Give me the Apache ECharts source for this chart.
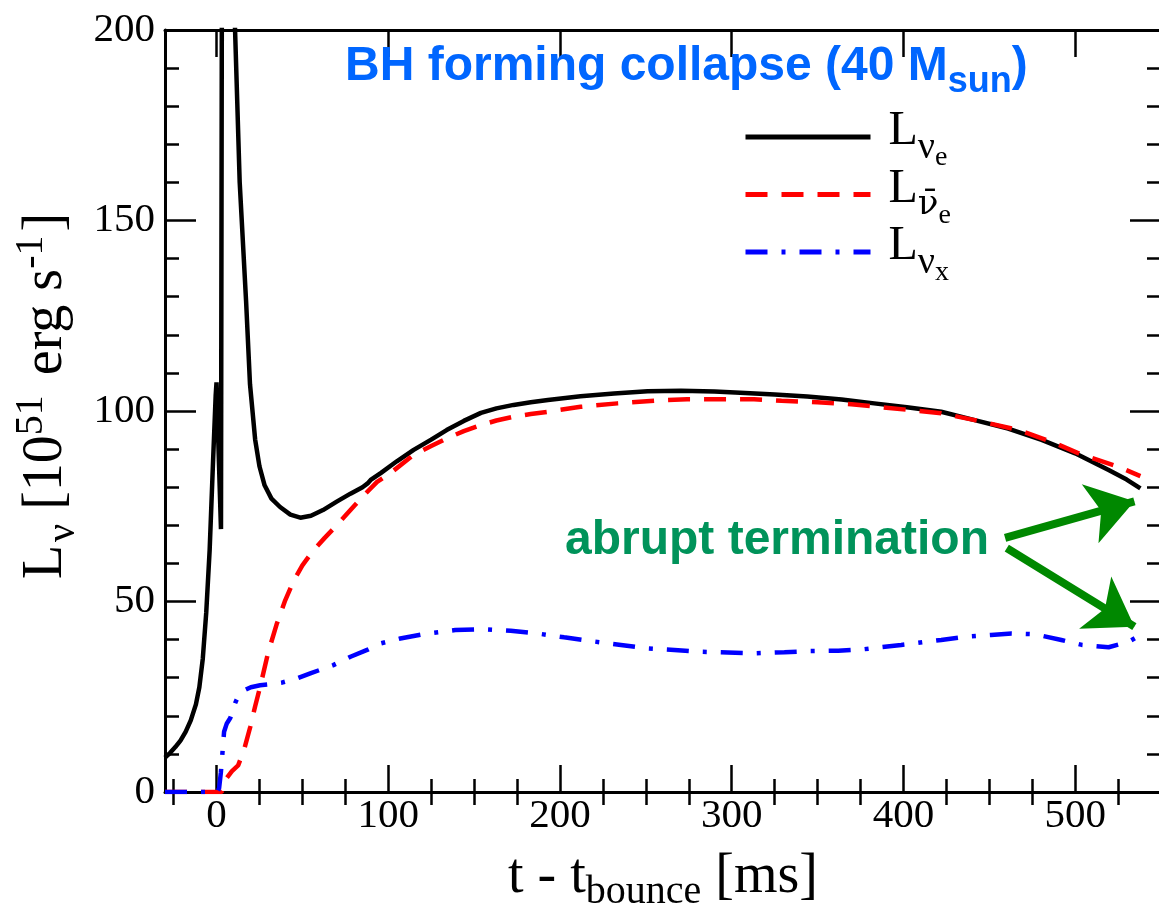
<!DOCTYPE html>
<html><head><meta charset="utf-8">
<script src="https://cdn.jsdelivr.net/npm/echarts@6/dist/echarts.min.js"></script>
<style>html,body{margin:0;padding:0;background:#fff}#c{width:1159px;height:906px}</style>
</head><body><div id="c"></div>
<script>
// ---- data ----
const xMajorTicks = [0, 100, 200, 300, 400, 500];
const xMinorTicks = [-25, 25, 50, 75, 125, 150, 175, 225, 250, 275, 325, 350, 375, 425, 450, 475, 525];

const tNue = [-30,-27,-24,-21,-18,-15,-12,-10,-8,-6,-4,-2,-0.5,0,2.6,3.0,3.3,5,8,10.8,13.5,17.2,19.5,22.5,25,28,32,37,43,48.8,55,62,70,78,85,88,90,95.6,105,114.8,125,134,144,154,163,173,183,193,212,231.5,251,270.5,290,305,325,344,364,383,402,422,441.5,461,480.5,500,519.5,530,538];
const lNue = [9.0,10.3,11.8,13.5,15.8,18.8,23.0,27.5,35,47,63.5,87,104,107.5,69,69,260,300,240,200,160,129,107,92.5,85.5,80.5,77,74.8,72.8,72,72.5,74,76.2,78.3,80,81,82,83.7,86.8,89.8,92.5,95,97.4,99.5,100.7,101.6,102.3,102.9,103.9,104.6,105.2,105.3,105.1,104.8,104.3,103.8,103,102,101,99.8,97.6,95.4,92.4,88.9,84.5,82,79.7];

const tNuebar = [-30,3,4.5,6,9,12.6,16,19.6,22.5,25.4,30,35,40,45,50,56,63,70,78,85,93.5,101,114.8,125,134,144,154,163,173,183,193,212,233.5,255,274,292,313,329,350,369.7,387,402.7,422,441.6,467,486.5,504,525,538];
const lNuebar = [0,0,2,3.7,5.5,7,11,17,22.5,27.6,36.5,44,50.3,55.5,59.5,63.2,66.7,70,74,77.5,81.4,83.6,88.5,90.8,92.8,94.7,96.3,97.5,98.5,99.2,99.8,101.1,102,102.7,103.1,103.1,103.1,102.7,102.3,101.8,101,100.3,99.4,97.6,95,91.9,88.5,85.4,82.9];

const tNux = [-30,0.5,1.5,2.5,3,4.4,6,8,10.9,13,16.7,20,25.4,32,38,46.8,55,68,78,87.7,95.6,107,122.7,139,155.7,171.3,186.9,202.4,220,235.5,251,266.6,282,297.7,314,330.7,346,362,377.4,398.7,422,437.7,451,463,476.5,492,504,519.5,531,538];
const lNux = [0,0,1,5,7.6,15.8,18,19.4,23.4,25.5,26.8,27.5,28,28.3,28.7,29.8,31.2,33.3,35.5,37.3,39,40.3,41.6,42.5,42.7,42.3,41.6,40.6,39.5,38.6,37.7,37.3,36.8,36.6,36.4,36.7,37,37.1,37.5,38.6,39.9,40.8,41.2,41.6,41.4,39.9,38.6,38,39.4,41.2];

// annotation arrows: [start t, start L, tip t, tip L]
const arrowTop = [459.2, 66.7, 534.5, 76.3];
const arrowBottom = [460.2, 64.0, 534.5, 43.4];

const zip = (a, b) => a.map((v, i) => [v, b[i]]);

const SERIF = '"Liberation Serif", "Times New Roman", serif';
const SANS = '"Liberation Sans", Arial, sans-serif';
const tickStyle = { color: '#000', width: 2.5 };
const lineAxis = { show: true, onZero: false, lineStyle: { color: '#000', width: 3 } };

function xAx(pos, ticks, len, withLine, withLabel) {
  const o = {
    type: 'value', min: -30, max: 550, position: pos, gridIndex: 0,
    splitLine: { show: false },
    axisLine: withLine ? lineAxis : { show: false },
    axisTick: { show: true, inside: true, length: len, customValues: ticks, lineStyle: tickStyle },
    axisLabel: { show: false }
  };
  if (withLabel) {
    o.axisLabel = { show: true, customValues: xMajorTicks, fontFamily: SERIF, fontSize: 41, color: '#000', margin: 4 };
    o.name = '{m|t - t}{s|bounce}{m| [ms]}';
    o.nameLocation = 'middle';
    o.nameGap = 57;
    o.nameMoveOverlap = false;
    o.nameTextStyle = {
      lineHeight: 56,
      rich: {
        m: { fontFamily: SERIF, fontSize: 56, color: '#000', lineHeight: 56 },
        s: { fontFamily: SERIF, fontSize: 40, color: '#000', lineHeight: 56, padding: [30, 0, 0, 0] }
      }
    };
  }
  return o;
}

function yAx(pos, withLabel) {
  const o = {
    type: 'value', min: 0, max: 200, interval: 50, position: pos, gridIndex: 0,
    splitLine: { show: false }, minorSplitLine: { show: false },
    axisLine: lineAxis,
    axisTick: { show: true, inside: true, length: 31, lineStyle: tickStyle },
    minorTick: { show: true, splitNumber: 5, length: 14, lineStyle: tickStyle },
    axisLabel: { show: !!withLabel, fontFamily: SERIF, fontSize: 41, color: '#000', margin: 10 }
  };
  if (withLabel) {
    o.name = '{L|L}{n|ν}{m| [10}{p|51}{m| erg s}{q|-1}{m|]}';
    o.nameLocation = 'middle';
    o.nameRotate = 90;
    o.nameGap = 91;
    o.nameMoveOverlap = false;
    o.nameTextStyle = {
      lineHeight: 56,
      padding: [0, 0, 0, 30],
      rich: {
        L: { fontFamily: SERIF, fontSize: 56, color: '#000', lineHeight: 56, padding: [0, 3, 0, 0] },
        m: { fontFamily: SERIF, fontSize: 56, color: '#000', lineHeight: 56 },
        n: { fontFamily: SERIF, fontSize: 40, color: '#000', lineHeight: 56, padding: [34, 0, 0, 0] },
        p: { fontFamily: SERIF, fontSize: 40, color: '#000', lineHeight: 56, padding: [0, 6, 30, 0] },
        q: { fontFamily: SERIF, fontSize: 40, color: '#000', lineHeight: 56, padding: [0, 4, 30, 0] }
      }
    };
  }
  return o;
}

const legendRich = {
  L: { fontFamily: SERIF, fontSize: 48, color: '#000', lineHeight: 40, padding: [0, 0, 11, 0] },
  n: { fontFamily: SERIF, fontSize: 38, color: '#000', lineHeight: 40, padding: [22, 0, 0, 0] },
  b: { fontFamily: '"DejaVu Serif", serif', fontSize: 34, color: '#000', lineHeight: 40, padding: [22, 0, 0, 0] },
  e: { fontFamily: SERIF, fontSize: 28, color: '#000', lineHeight: 40, padding: [42, 0, 0, 0] }
};

const noEmph = { disabled: true };
const chart = echarts.init(document.getElementById('c'), null, { renderer: 'canvas' });
chart.setOption({
  animation: false,
  backgroundColor: '#fff',
  title: {
    text: '{a|BH forming collapse (40 M}{s|sun}{a|)}',
    left: 345, top: 43, padding: 0,
    textStyle: {
      lineHeight: 48,
      rich: {
        a: { fontFamily: SANS, fontWeight: 'bold', fontSize: 48, color: '#0066ff', lineHeight: 48 },
        s: { fontFamily: SANS, fontWeight: 'bold', fontSize: 36, color: '#0066ff', lineHeight: 48, padding: [30, 0, 0, 0] }
      }
    }
  },
  grid: { left: 165, top: 30, width: 996, height: 762, containLabel: false, outerBoundsMode: 'none' },
  legend: {
    orient: 'vertical', left: 743, top: 102, padding: 0,
    itemWidth: 125, itemHeight: 14, itemGap: -12.5,
    selectedMode: false,
    itemStyle: { opacity: 0 },
    lineStyle: { width: 5 },
    textStyle: { lineHeight: 40, padding: [0, 0, 0, 13], rich: legendRich },
    data: ['nue', 'nuebar', 'nux'],
    formatter: function (name) {
      if (name === 'nue') return '{L|L}{n|ν}{e|e}';
      if (name === 'nuebar') return '{L|L}{b|ν̄}{e|e}';
      return '{L|L}{n|ν}{e|x}';
    }
  },
  xAxis: [
    xAx('bottom', xMajorTicks, 27, true, true),
    xAx('bottom', xMinorTicks, 13, false, false),
    xAx('top', xMajorTicks, 27, true, false),
    xAx('top', xMinorTicks, 13, false, false)
  ],
  yAxis: [yAx('left', true), yAx('right', false)],
  graphic: [{
    type: 'text', left: 565, top: 517, silent: true,
    style: { text: 'abrupt termination', font: 'bold 48px ' + SANS, fill: '#00935a' }
  }],
  series: [
    {
      name: 'nue', type: 'line', xAxisIndex: 0, yAxisIndex: 0, data: zip(tNue, lNue),
      showSymbol: false, symbol: 'none', clip: true, emphasis: noEmph,
      lineStyle: { color: '#000', width: 4.5 }, itemStyle: { color: '#000' },
      markLine: {
        silent: true, symbol: ['none', 'arrow'], symbolSize: 46,
        label: { show: false }, emphasis: noEmph,
        lineStyle: { color: '#008800', width: 8, type: 'solid', opacity: 1 }, itemStyle: { color: '#008800' },
        data: [
          [{ coord: [arrowTop[0], arrowTop[1]] }, { coord: [arrowTop[2], arrowTop[3]] }],
          [{ coord: [arrowBottom[0], arrowBottom[1]] }, { coord: [arrowBottom[2], arrowBottom[3]] }]
        ]
      }
    },
    {
      name: 'nuebar', type: 'line', xAxisIndex: 0, yAxisIndex: 0, data: zip(tNuebar, lNuebar),
      showSymbol: false, symbol: 'none', clip: true, emphasis: noEmph,
      lineStyle: { color: '#ff0000', width: 4.5, type: [22, 14] }, itemStyle: { color: '#ff0000' }
    },
    {
      name: 'nux', type: 'line', xAxisIndex: 0, yAxisIndex: 0, data: zip(tNux, lNux),
      showSymbol: false, symbol: 'none', clip: true, emphasis: noEmph,
      lineStyle: { color: '#0000ff', width: 4.5, type: [22, 14, 4, 14] }, itemStyle: { color: '#0000ff' }
    }
  ]
});
</script>
</body></html>
